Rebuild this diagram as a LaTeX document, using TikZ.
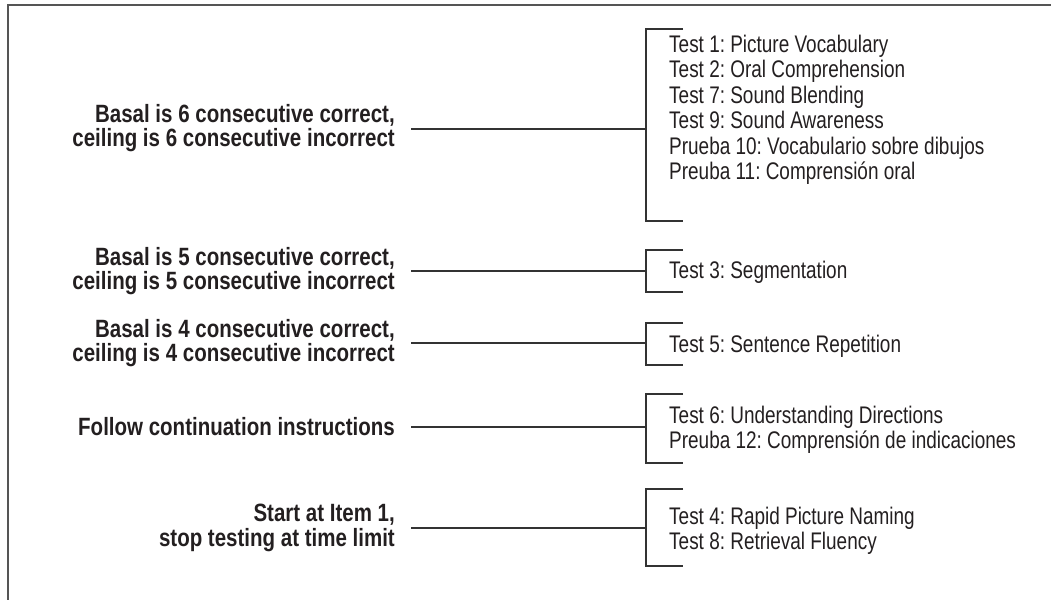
\documentclass[tikz,border=0pt]{standalone}
\usepackage{fontspec}
\newfontfamily\condreg[FakeStretch=0.79]{Liberation Sans}
\newfontfamily\condbold[FakeStretch=0.82]{Liberation Sans Bold}
\definecolor{ink}{HTML}{231F20}
\definecolor{rulegray}{HTML}{333333}
\definecolor{framegray}{HTML}{555555}
\frenchspacing
\tikzset{
  rulelabel/.style={font=\condbold\fontsize{25}{24.5}\selectfont, text=ink,
    align=right, anchor=east, inner sep=0pt},
  testlist/.style={font=\condreg\fontsize{24}{25.5}\selectfont, text=ink,
    align=left, anchor=west, inner sep=0pt},
  link/.style={draw=rulegray, line width=1.3pt},
  brace/.style={draw=rulegray, line width=1.3pt},
  frameline/.style={draw=framegray, line width=2pt}
}
\begin{document}
\begin{tikzpicture}[x=1pt,y=-1pt]
\useasboundingbox (0,0) rectangle (1051,600);
% open frame: top and left edges only
\draw[frameline] (1051,5) -- (8,5) -- (8,600);

% ---- rule labels (left column)
\node[rulelabel] (r1) at (395,128) {Basal is 6 consecutive correct,\\ceiling is 6 consecutive incorrect};
\node[rulelabel] (r2) at (395,271) {Basal is 5 consecutive correct,\\ceiling is 5 consecutive incorrect};
\node[rulelabel] (r3) at (395,343) {Basal is 4 consecutive correct,\\ceiling is 4 consecutive incorrect};
\node[rulelabel] (r4) at (395,427) {Follow continuation instructions};
\node[rulelabel] (r5) at (395,528) {Start at Item 1,\\stop testing at time limit};

% ---- test lists (right column)
\node[testlist] (t1) at (669,110) {Test 1: Picture Vocabulary\\Test 2: Oral Comprehension\\Test 7: Sound Blending\\Test 9: Sound Awareness\\Prueba 10: Vocabulario sobre dibujos\\Preuba 11: Comprensión oral};
\node[testlist] (t2) at (669,272) {Test 3: Segmentation};
\node[testlist] (t3) at (669,346) {Test 5: Sentence Repetition};
\node[testlist] (t4) at (669,430) {Test 6: Understanding Directions\\Preuba 12: Comprensión de indicaciones};
\node[testlist] (t5) at (669,531) {Test 4: Rapid Picture Naming\\Test 8: Retrieval Fluency};

% ---- connector start points and bracket joints
\coordinate (s1) at (411,129); \coordinate (j1) at (646,129);
\coordinate (s2) at (411,271); \coordinate (j2) at (646,271);
\coordinate (s3) at (411,343); \coordinate (j3) at (646,343);
\coordinate (s4) at (411,427); \coordinate (j4) at (646,427);
\coordinate (s5) at (411,528); \coordinate (j5) at (646,528);

\draw[link] (s1) -- (j1);
\draw[link] (s2) -- (j2);
\draw[link] (s3) -- (j3);
\draw[link] (s4) -- (j4);
\draw[link] (s5) -- (j5);

% ---- brackets
\draw[brace] (683,29)  -| (646,221) -- (683,221);
\draw[brace] (683,250) -| (646,292) -- (683,292);
\draw[brace] (683,323) -| (646,365) -- (683,365);
\draw[brace] (683,394) -| (646,463) -- (683,463);
\draw[brace] (683,489) -| (646,566) -- (683,566);
\end{tikzpicture}
\end{document}
